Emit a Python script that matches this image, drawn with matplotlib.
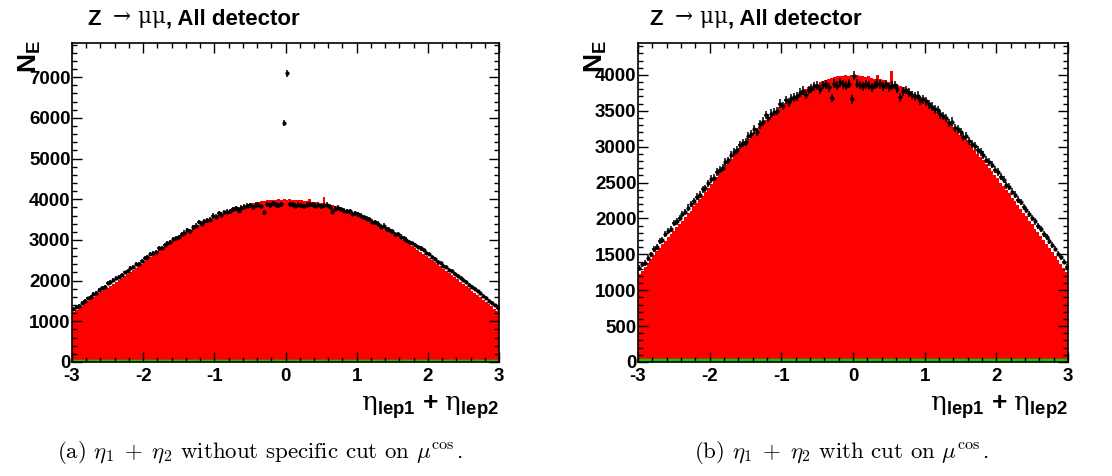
import numpy as np
import matplotlib
matplotlib.use("Agg")
import matplotlib.pyplot as plt
from matplotlib.ticker import MultipleLocator

plt.rcParams['font.family'] = ['Liberation Sans', 'DejaVu Sans']
plt.rcParams['mathtext.fontset'] = 'custom'
plt.rcParams['mathtext.rm'] = 'DejaVu Serif'
plt.rcParams['mathtext.bf'] = 'Liberation Sans:bold'
plt.rcParams['mathtext.it'] = 'DejaVu Serif:italic'

# ---------------- data (150 bins of width 0.04 between -3 and 3) ----------------
x_range = (-3.0, 3.0)
n_bins = 150

mc_counts = [
    1230, 1270, 1330, 1380, 1440, 1490, 1540, 1590, 1640, 1690,
    1740, 1790, 1830, 1880, 1920, 1970, 2020, 2070, 2110, 2170,
    2220, 2270, 2320, 2370, 2420, 2480, 2520, 2580, 2630, 2680,
    2740, 2780, 2830, 2890, 2930, 2980, 3030, 3070, 3110, 3160,
    3200, 3240, 3290, 3330, 3370, 3410, 3440, 3480, 3510, 3550,
    3580, 3610, 3650, 3680, 3700, 3730, 3760, 3780, 3800, 3830,
    3850, 3870, 3880, 3900, 3920, 3930, 3950, 3960, 3970, 3980,
    3990, 3980, 4000, 3990, 4000, 3990, 4000, 3980, 3990, 3970,
    3980, 3960, 3950, 4000, 3940, 3930, 3920, 3900, 4060, 3880,
    3860, 3850, 3830, 3810, 3790, 3770, 3740, 3720, 3690, 3660,
    3630, 3600, 3560, 3530, 3490, 3460, 3420, 3380, 3340, 3300,
    3260, 3220, 3170, 3130, 3090, 3040, 3000, 2950, 2900, 2860,
    2810, 2760, 2710, 2660, 2610, 2560, 2500, 2450, 2400, 2350,
    2290, 2240, 2190, 2130, 2080, 2030, 1970, 1920, 1860, 1810,
    1750, 1700, 1640, 1590, 1530, 1480, 1420, 1370, 1310, 1260,
]

data_counts = [
    1310, 1360, 1380, 1450, 1500, 1570, 1600, 1680, 1700, 1780,
    1830, 1850, 1940, 1960, 2010, 2060, 2090, 2150, 2200, 2240,
    2300, 2330, 2410, 2420, 2490, 2550, 2570, 2650, 2680, 2710,
    2790, 2810, 2880, 2930, 2950, 3020, 3050, 3070, 3150, 3180,
    3240, 3210, 3310, 3350, 3440, 3400, 3460, 3480, 3500, 3600,
    3570, 3650, 3620, 3680, 3690, 3700, 3750, 3780, 3720, 3790,
    3810, 3840, 3850, 3800, 3860, 3870, 3830, 3680, 3880, 3850,
    3900, 3870, 3850, 3880, 3660, 3990, 3880, 3860, 3840, 3870,
    3850, 3830, 3860, 3880, 3870, 3840, 3870, 3830, 3850, 3860,
    3810, 3690, 3770, 3790, 3750, 3720, 3700, 3710, 3640, 3660,
    3630, 3590, 3560, 3520, 3510, 3450, 3430, 3400, 3330, 3350,
    3260, 3250, 3210, 3140, 3150, 3080, 3040, 3010, 2950, 2930,
    2880, 2820, 2790, 2750, 2680, 2650, 2580, 2540, 2460, 2440,
    2370, 2330, 2260, 2230, 2160, 2120, 2060, 2010, 1960, 1900,
    1850, 1790, 1740, 1690, 1630, 1580, 1510, 1460, 1400, 1330,
]

bkg_counts = [
    24, 22, 26, 25, 23, 27, 24, 26, 25, 22, 26, 24, 25, 27, 23,
    25, 24, 26, 22, 25, 27, 24, 23, 26, 25, 24, 26, 23, 25, 27,
    24, 25, 26, 22, 25, 24, 27, 25, 23, 26, 24, 25, 26, 24, 23,
    25, 27, 24, 26, 25, 23, 24, 26, 25, 27, 24, 25, 23, 26, 24,
    25, 26, 24, 27, 25, 23, 24, 26, 25, 24, 26, 25, 27, 24, 25,
    23, 26, 24, 25, 27, 24, 26, 25, 23, 24, 26, 25, 24, 27, 25,
    24, 26, 23, 25, 24, 26, 25, 27, 24, 23, 25, 26, 24, 25, 27,
    24, 23, 26, 25, 24, 26, 25, 23, 27, 24, 25, 26, 24, 25, 23,
    26, 24, 25, 27, 24, 26, 23, 25, 24, 26, 25, 24, 27, 25, 23,
    24, 26, 25, 24, 26, 23, 25, 27, 24, 25, 26, 24, 23, 25, 24,
]

# extra entries in panel (a) (no cos cut)
spike_centers = [-0.02, 0.02]
spike_counts = [5870, 7100]

x_ticks = [-3, -2, -1, 0, 1, 2, 3]
titles = ["Z ", ", All detector"]
captions = [r"(a) $\eta_1\;+\;\eta_2$ without specific cut on $\mu^{\cos}$.",
            r"(b) $\eta_1\;+\;\eta_2$ with cut on $\mu^{\cos}$."]

# ---------------- figure ----------------
W, H = 1112, 476
fig = plt.figure(figsize=(W / 100, H / 100), dpi=100)

edges = np.linspace(x_range[0], x_range[1], n_bins + 1)
centers = 0.5 * (edges[:-1] + edges[1:])
mc = np.array(mc_counts, float)
dat_b = np.array(data_counts, float)
bkg = np.array(bkg_counts, float)
dat_a = dat_b.copy()
for c, v in zip(spike_centers, spike_counts):
    dat_a[np.argmin(np.abs(centers - c))] = v

panels = [
    dict(rect=[72 / W, 1 - 362 / H, 427 / W, 319 / H], data=dat_a, ymax=7840,
         minor=200, yticks=list(range(0, 8000, 1000)), tx=16),
    dict(rect=[638 / W, 1 - 362 / H, 430 / W, 319 / H], data=dat_b, ymax=4445,
         minor=100, yticks=list(range(0, 4500, 500)), tx=12),
]

tick_fs = 13.5
for i, p in enumerate(panels):
    ax = fig.add_axes(p['rect'])
    ax.stairs(mc, edges, fill=True, color='#ff0000', lw=0)
    ax.stairs(bkg, edges, fill=True, color='#00cc00', lw=0)
    ax.stairs(bkg, edges, fill=False, color='#00cc00', lw=2.5)
    d = p['data']
    ax.errorbar(centers, d, yerr=np.sqrt(d), xerr=0.02, fmt='o', ms=2.0,
                color='black', ecolor='black', elinewidth=1.1, capsize=0, zorder=5)
    ax.set_xlim(*x_range)
    ax.set_ylim(0, p['ymax'])
    ax.set_xticks(x_ticks)
    ax.set_xticklabels([str(t) if t >= 0 else '-' + str(-t) for t in x_ticks])
    ax.set_yticks(p['yticks'])
    ax.set_yticklabels([str(t) for t in p['yticks']])
    ax.xaxis.set_minor_locator(MultipleLocator(0.2))
    ax.yaxis.set_minor_locator(MultipleLocator(p['minor']))
    ax.tick_params(which='both', direction='in', top=True, right=True,
                   labelsize=tick_fs, width=1.0)
    ax.tick_params(which='major', length=7)
    ax.tick_params(which='minor', length=3.5)
    ax.tick_params(axis='y', pad=1)
    ax.tick_params(axis='x', pad=4.5)
    for lab in ax.get_xticklabels() + ax.get_yticklabels():
        lab.set_fontweight('bold')
    for s in ax.spines.values():
        s.set_linewidth(1.2)

    x0 = p['rect'][0]
    x1 = p['rect'][0] + p['rect'][2]
    # title
    t1 = fig.text(x0 + p['tx'] / W, 1 - 25 / H, titles[0], fontsize=16,
                  fontweight='bold', ha='left', va='baseline')
    a2 = plt.annotate(r'$\mathrm{\rightarrow\,\mu\mu}$', xy=(1, 0),
                      xycoords=t1, va='bottom', ha='left', fontsize=15.5,
                      annotation_clip=False)
    plt.annotate(titles[1], xy=(1, 0), xycoords=a2, va='bottom', ha='left',
                 fontsize=16, fontweight='bold', annotation_clip=False)
    # y label
    fig.text(x0 - 29 / W, 1 - 40 / H, r'$\mathbf{N}_{\mathbf{E}}$', fontsize=19,
             rotation=90, ha='right', va='top')
    # x label
    fig.text(x1, 1 - 411 / H,
             r'$\mathrm{\eta}_{\mathbf{lep1}}$ $\mathbf{+}$ $\mathrm{\eta}_{\mathbf{lep2}}$',
             fontsize=19, ha='right', va='baseline')
    # caption
    cx = [260, 841][i]
    fig.text(cx / W, 1 - 452 / H, captions[i], fontsize=16.5, ha='center',
             va='center', family='cmr10', math_fontfamily='cm')

fig.savefig('out.png', dpi=100)
